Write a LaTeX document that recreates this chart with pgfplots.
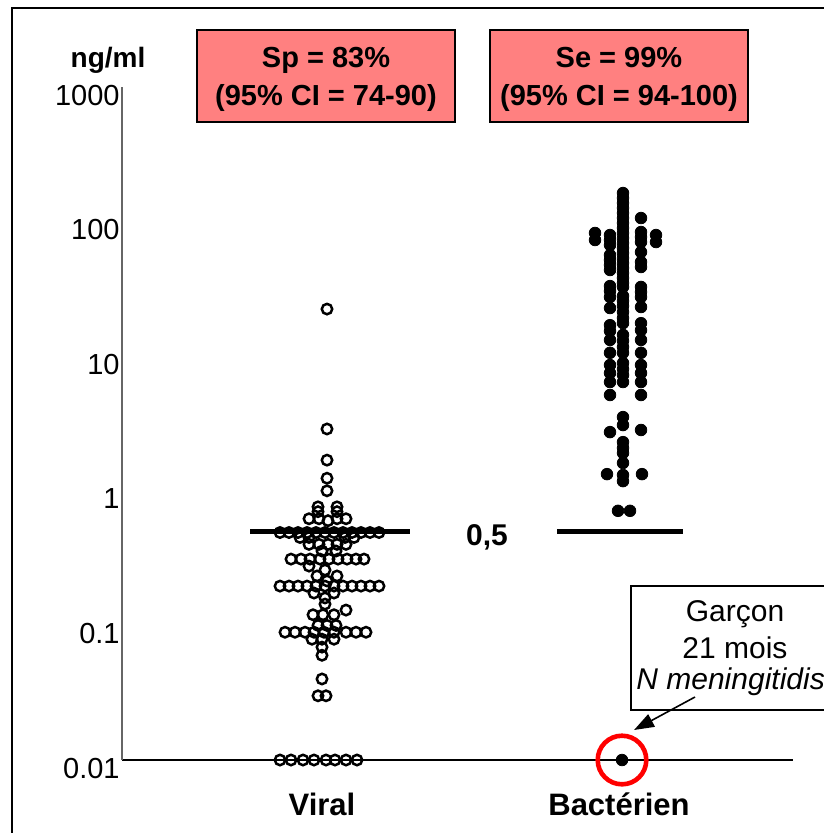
\documentclass[border=0pt]{standalone}
\usepackage{pgfplots}
\pgfplotsset{compat=1.18}
\usepackage{fontspec}
\setmainfont{Liberation Sans}
\usetikzlibrary{arrows.meta}
\definecolor{boxred}{RGB}{255,128,128}

\begin{document}
\begin{tikzpicture}
\useasboundingbox (0,0) rectangle (411.5pt,-416.5pt);
\draw[line width=1pt] (6pt,-420pt) -- (6pt,-4pt) -- (415pt,-4pt);
\begin{axis}[
  at={(61pt,-380pt)}, anchor=south west,
  scale only axis, width=335.5pt, height=336.5pt,
  xmin=122, xmax=793, ymin=0.01, ymax=1000, ymode=log,
  axis x line=bottom, axis y line=left,
  axis line style={-, line width=0.6pt},
  y axis line style={black!60},
  clip=false,
  xtick={322,619}, xticklabels={Viral,Bactérien},
  ytick={0.01,0.1,1,10,100,1000}, yticklabels={0.01,0.1,1,10,100,1000},
  yminorticks=false, xminorticks=false,
  major tick length=0pt,
  /pgf/number format/assume math mode=true,
  xticklabel style={font=\fontsize{15.5}{18}\selectfont\bfseries, anchor=base, yshift=-27.5pt, inner sep=0pt},
  yticklabel style={font=\fontsize{14.5}{17}\selectfont, anchor=base east, yshift=-9pt, xshift=-1pt, inner sep=0pt},
]
% Viral (open circles)
\addplot[only marks, mark=o, mark size=2.6pt, mark options={line width=1.25pt, black}] table {
x y
327 22.4
327 2.88
327 1.69
327 1.24
327 1.0
318 0.76
337 0.76
318 0.70
337 0.70
309 0.62
319 0.62
328 0.60
337 0.62
346 0.62
280 0.49
289 0.49
298 0.49
307 0.49
316 0.49
325 0.49
334 0.49
343 0.49
352 0.49
361 0.49
370 0.49
379 0.49
300 0.45
309 0.45
345 0.45
354 0.45
309 0.40
319 0.40
328 0.40
337 0.40
346 0.40
322 0.357
336 0.357
291 0.311
301 0.311
310 0.311
320 0.311
329 0.311
338 0.311
347 0.311
356 0.311
364 0.311
309 0.276
325 0.258
317 0.233
337 0.233
327 0.214
280 0.196
289 0.196
298 0.196
307 0.196
316 0.196
325 0.196
334 0.196
343 0.196
352 0.196
361 0.196
370 0.196
379 0.196
314 0.174
334 0.174
325 0.160
325 0.144
346 0.130
313 0.12
323 0.12
334 0.12
318 0.10
327 0.10
336 0.10
285 0.089
295 0.089
305 0.089
314 0.089
324 0.089
334 0.089
346 0.089
356 0.089
366 0.089
312 0.079
322 0.079
334 0.079
322 0.069
322 0.060
322 0.040
318 0.030
326 0.030
280 0.01
291 0.01
303 0.01
314 0.01
326 0.01
335 0.01
346 0.01
357 0.01
};
% Bacterial (filled)
\addplot[only marks, mark=*, mark size=2.9pt, black] table {
x y
623 163
623 149.6
623 137.4
623 126.2
623 115.8
623 106.3
623 97.6
623 89.6
623 82.3
623 75.5
623 69.3
623 63.6
623 58.4
623 53.6
623 49.2
623 45.2
623 41.5
623 38.1
623 35.0
623 32.7
623 28.0
623 25.7
623 23.6
623 21.3
623 19.2
623 17.6
623 14.4
623 13.0
623 11.7
623 10.6
623 8.90
623 8.03
623 7.25
623 6.43
623 3.53
623 3.08
623 2.30
623 2.08
623 1.91
623 1.61
623 1.31
623 1.18
618 0.71
630 0.71
622 0.01
610 79.5
610 73.0
610 67.0
610 56.4
610 51.8
610 47.6
610 43.7
610 33.2
610 30.5
610 27.5
610 22.8
610 17.0
610 15.4
610 13.2
610 10.6
610 8.60
610 7.50
610 6.43
610 5.15
610 2.73
607 1.33
641 106.3
641 83.7
641 76.8
641 70.5
641 59.4
641 50.1
641 46.0
641 32.7
641 30.0
641 27.5
641 23.2
641 17.6
641 15.6
641 13.2
641 10.6
641 8.60
641 7.50
641 6.43
641 5.15
641 2.83
642 1.33
595 82.3
595 73.0
656 79.5
656 70.5
};
% medians
\addplot[no marks, line width=2.3pt, black] coordinates {(250,0.5) (410,0.5)};
\addplot[no marks, line width=2.3pt, black] coordinates {(557,0.5) (683,0.5)};
% highlighted case
\addplot[only marks, mark=o, mark size=12.15pt, red, mark options={line width=2.3pt, red}] coordinates {(622,0.01)};
\end{axis}

\node[font=\fontsize{14}{17}\selectfont\bfseries] at (54pt,-30pt) {ng/ml};
\draw[fill=boxred, line width=0.8pt] (98.5pt,-15pt) rectangle (227.5pt,-61pt);
\node[font=\fontsize{14.5}{19pt}\selectfont\bfseries, align=center] at (163pt,-39.5pt) {Sp = 83\%\\(95\% CI = 74-90)};
\draw[fill=boxred, line width=0.8pt] (245pt,-15pt) rectangle (374pt,-61pt);
\node[font=\fontsize{14.5}{19pt}\selectfont\bfseries, align=center] at (309.5pt,-39.5pt) {Se = 99\%\\(95\% CI = 94-100)};
\node[font=\fontsize{15}{18}\selectfont\bfseries] at (243.5pt,-268.5pt) {0,5};

\draw[fill=white, line width=1pt] (315.5pt,-293pt) rectangle (425pt,-355pt);
\node[font=\fontsize{15}{18}\selectfont] at (367.5pt,-307pt) {Garçon};
\node[font=\fontsize{15}{18}\selectfont] at (367.5pt,-324pt) {21 mois};
\node[font=\fontsize{15}{18}\selectfont\itshape, anchor=west, inner sep=0pt] at (318pt,-341pt) {N meningitidis};
\draw[line width=0.8pt, -{Triangle[length=10pt,width=7pt]}] (347.5pt,-348.5pt) -- (317pt,-365pt);
\end{tikzpicture}
\end{document}
